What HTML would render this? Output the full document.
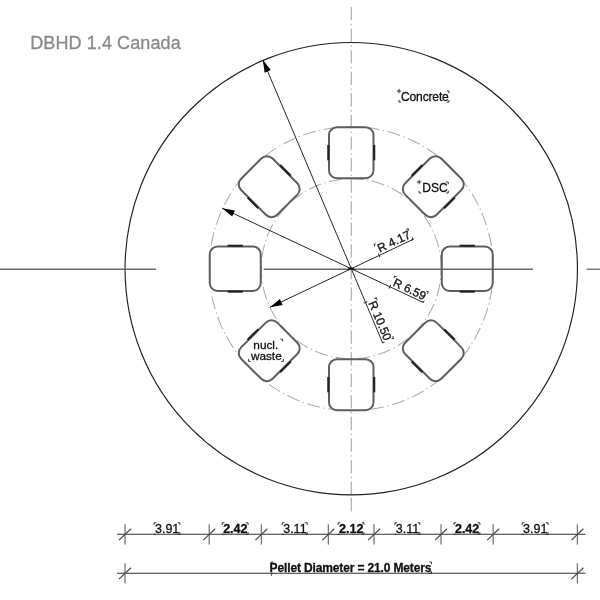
<!DOCTYPE html>
<html><head><meta charset="utf-8"><style>
html,body{margin:0;padding:0;background:#fff;}
svg{display:block;font-family:"Liberation Sans",sans-serif;filter:grayscale(1);}
</style></head><body>
<svg width="600" height="600" viewBox="0 0 600 600">
<rect width="600" height="600" fill="#fff"/>
<line x1="351.3" y1="7" x2="351.3" y2="495" stroke="#b4b4b4" stroke-width="1.3" stroke-dasharray="13.3 3.5 1.3 3.47"/>
<line x1="351.3" y1="498" x2="351.3" y2="511.5" stroke="#b4b4b4" stroke-width="1.3"/>
<circle cx="351.25" cy="268.7" r="90" fill="none" stroke="#adadad" stroke-width="1.05" stroke-dasharray="13.2 3.5 1.3 3.45" stroke-dashoffset="6.6"/>
<circle cx="351.25" cy="268.7" r="142" fill="none" stroke="#adadad" stroke-width="1.05" stroke-dasharray="13.2 3.5 1.3 3.48" stroke-dashoffset="3.22"/>
<circle cx="351.25" cy="268.7" r="226.2" fill="none" stroke="#222" stroke-width="1.15"/>
<line x1="0" y1="269.25" x2="156" y2="269.25" stroke="#6a6a6a" stroke-width="1.3"/>
<line x1="263.75" y1="269.25" x2="533" y2="269.25" stroke="#6a6a6a" stroke-width="1.3"/>
<line x1="586.5" y1="269.25" x2="600" y2="269.25" stroke="#6a6a6a" stroke-width="1.3"/>
<g transform="translate(467.25 268.7) rotate(90)"><rect x="-22.25" y="-25.5" width="44.5" height="51" rx="8" fill="none" stroke="#5e5e5e" stroke-width="2"/><rect x="-24.0" y="-7.6" width="2.1" height="15.2" fill="#222"/><rect x="21.9" y="-7.6" width="2.1" height="15.2" fill="#222"/></g>
<g transform="translate(433.27 186.68) rotate(45)"><rect x="-22.25" y="-25.5" width="44.5" height="51" rx="8" fill="none" stroke="#5e5e5e" stroke-width="2"/><rect x="-24.0" y="-7.6" width="2.1" height="15.2" fill="#222"/><rect x="21.9" y="-7.6" width="2.1" height="15.2" fill="#222"/></g>
<g transform="translate(351.25 152.7) rotate(0)"><rect x="-22.25" y="-25.5" width="44.5" height="51" rx="8" fill="none" stroke="#5e5e5e" stroke-width="2"/><rect x="-24.0" y="-7.6" width="2.1" height="15.2" fill="#222"/><rect x="21.9" y="-7.6" width="2.1" height="15.2" fill="#222"/></g>
<g transform="translate(269.23 186.68) rotate(-45)"><rect x="-22.25" y="-25.5" width="44.5" height="51" rx="8" fill="none" stroke="#5e5e5e" stroke-width="2"/><rect x="-24.0" y="-7.6" width="2.1" height="15.2" fill="#222"/><rect x="21.9" y="-7.6" width="2.1" height="15.2" fill="#222"/></g>
<g transform="translate(235.25 268.7) rotate(-90)"><rect x="-22.25" y="-25.5" width="44.5" height="51" rx="8" fill="none" stroke="#5e5e5e" stroke-width="2"/><rect x="-24.0" y="-7.6" width="2.1" height="15.2" fill="#222"/><rect x="21.9" y="-7.6" width="2.1" height="15.2" fill="#222"/></g>
<g transform="translate(269.23 350.72) rotate(-135)"><rect x="-22.25" y="-25.5" width="44.5" height="51" rx="8" fill="none" stroke="#5e5e5e" stroke-width="2"/><rect x="-24.0" y="-7.6" width="2.1" height="15.2" fill="#222"/><rect x="21.9" y="-7.6" width="2.1" height="15.2" fill="#222"/></g>
<g transform="translate(351.25 384.7) rotate(-180)"><rect x="-22.25" y="-25.5" width="44.5" height="51" rx="8" fill="none" stroke="#5e5e5e" stroke-width="2"/><rect x="-24.0" y="-7.6" width="2.1" height="15.2" fill="#222"/><rect x="21.9" y="-7.6" width="2.1" height="15.2" fill="#222"/></g>
<g transform="translate(433.27 350.72) rotate(-225)"><rect x="-22.25" y="-25.5" width="44.5" height="51" rx="8" fill="none" stroke="#5e5e5e" stroke-width="2"/><rect x="-24.0" y="-7.6" width="2.1" height="15.2" fill="#222"/><rect x="21.9" y="-7.6" width="2.1" height="15.2" fill="#222"/></g>
<line x1="262.81" y1="59.85" x2="381.9" y2="341.08" stroke="#282828" stroke-width="1.0"/><polygon points="262.81,59.85 264.65,72.65 270.73,70.08" fill="#000"/><g transform="translate(368.17 303.02) rotate(67.05)"><text x="0" y="0" font-size="11.9" fill="#111" stroke="#111" stroke-width="0.3">R 10.50</text><path d="M-1.6 -7.82V-9.62H0.2" stroke="#222" stroke-width="0.9" fill="none" stroke-linecap="round"/><path d="M40.48 -9.62H42.28V-7.82" stroke="#222" stroke-width="0.9" fill="none" stroke-linecap="round"/><path d="M42.28 0.4V2.2H40.48" stroke="#222" stroke-width="0.9" fill="none" stroke-linecap="round"/><path d="M-1.6 0.5V3.9" stroke="#222" stroke-width="0.9" fill="none" stroke-linecap="round"/></g>
<line x1="222.21" y1="208.25" x2="422.43" y2="302.04" stroke="#282828" stroke-width="1.0"/><polygon points="222.21,208.25 232.13,216.54 234.93,210.57" fill="#000"/><g transform="translate(392.21 285.46) rotate(25.1)"><text x="0" y="0" font-size="11.8" fill="#111" stroke="#111" stroke-width="0.3">R 6.59</text><path d="M-1.6 -7.75V-9.55H0.2" stroke="#222" stroke-width="0.9" fill="none" stroke-linecap="round"/><path d="M33.57 -9.55H35.37V-7.75" stroke="#222" stroke-width="0.9" fill="none" stroke-linecap="round"/><path d="M35.37 0.4V2.2H33.57" stroke="#222" stroke-width="0.9" fill="none" stroke-linecap="round"/><path d="M-1.6 0.5V3.9" stroke="#222" stroke-width="0.9" fill="none" stroke-linecap="round"/></g>
<line x1="269.95" y1="307.3" x2="413.58" y2="239.1" stroke="#282828" stroke-width="1.0"/><polygon points="269.95,307.3 282.66,304.92 279.83,298.96" fill="#000"/><g transform="translate(379.66 252.77) rotate(-25.4)"><text x="0" y="0" font-size="12" fill="#111" stroke="#111" stroke-width="0.3">R 4.17</text><path d="M-1.6 -7.89V-9.69H0.2" stroke="#222" stroke-width="0.9" fill="none" stroke-linecap="round"/><path d="M34.16 -9.69H35.96V-7.89" stroke="#222" stroke-width="0.9" fill="none" stroke-linecap="round"/><path d="M35.96 0.4V2.2H34.16" stroke="#222" stroke-width="0.9" fill="none" stroke-linecap="round"/><path d="M-1.6 0.5V3.9" stroke="#222" stroke-width="0.9" fill="none" stroke-linecap="round"/></g>
<path d="M347.9 269.7Q351.1 266.9 354.3 269.7" fill="none" stroke="#000" stroke-width="1.5"/>
<g transform="translate(401 100.8)"><text x="0" y="0" font-size="12.1" letter-spacing="-0.18" fill="#111" stroke="#111" stroke-width="0.3">Concrete</text><path d="M-3.8 -9.76H-0.2M-2 -11.56V-7.96" stroke="#222" stroke-width="0.9" fill="none" stroke-linecap="round"/><path d="M46.16 -9.76H47.96V-7.96" stroke="#222" stroke-width="0.9" fill="none" stroke-linecap="round"/><path d="M47.96 -0.5V1.3H46.16" stroke="#222" stroke-width="0.9" fill="none" stroke-linecap="round"/><path d="M-2 -0.5V1.3H-0.2" stroke="#222" stroke-width="0.9" fill="none" stroke-linecap="round"/></g>
<g transform="translate(422.3 191.7)"><text x="0" y="0" font-size="12" fill="#111" stroke="#111" stroke-width="0.3">DSC</text><path d="M-5 -9.69H-1.4M-3.2 -11.49V-7.89" stroke="#222" stroke-width="0.9" fill="none" stroke-linecap="round"/><path d="M24.14 -9.69H25.94V-7.89" stroke="#222" stroke-width="0.9" fill="none" stroke-linecap="round"/><path d="M25.94 -0.5V1.3H24.14" stroke="#222" stroke-width="0.9" fill="none" stroke-linecap="round"/><path d="M-3.2 -0.5V1.3H-1.4" stroke="#222" stroke-width="0.9" fill="none" stroke-linecap="round"/></g>
<g transform="translate(265.8 349.1)"><text x="-12.46" y="0" font-size="11.8" fill="#111" stroke="#111" stroke-width="0.3">nucl.</text></g>
<g transform="translate(266.3 359.7)"><text x="-15.41" y="0" font-size="11.8" fill="#111" stroke="#111" stroke-width="0.3">waste</text></g>
<path d="M280.8 339.2H282.6V341" stroke="#222" stroke-width="0.9" fill="none" stroke-linecap="round"/><path d="M248.6 359.4V361.4H250.4" stroke="#222" stroke-width="0.9" fill="none" stroke-linecap="round"/><path d="M283.4 359.4V361.4H281.6" stroke="#222" stroke-width="0.9" fill="none" stroke-linecap="round"/>
<text x="30.2" y="48.6" font-size="18" letter-spacing="0.1" fill="#8a8a8a" stroke="#8a8a8a" stroke-width="0.3">DBHD 1.4 Canada</text>
<line x1="117" y1="534.3" x2="585.5" y2="534.3" stroke="#333" stroke-width="1.1"/><line x1="125" y1="524.3" x2="125" y2="544.5999999999999" stroke="#777" stroke-width="1.3"/><line x1="119" y1="540.0999999999999" x2="131" y2="528.6999999999999" stroke="#4a4a4a" stroke-width="1.2"/><line x1="209.23" y1="524.3" x2="209.23" y2="544.5999999999999" stroke="#777" stroke-width="1.3"/><line x1="203.23" y1="540.0999999999999" x2="215.23" y2="528.6999999999999" stroke="#4a4a4a" stroke-width="1.2"/><line x1="261.37" y1="524.3" x2="261.37" y2="544.5999999999999" stroke="#777" stroke-width="1.3"/><line x1="255.37" y1="540.0999999999999" x2="267.37" y2="528.6999999999999" stroke="#4a4a4a" stroke-width="1.2"/><line x1="328.36" y1="524.3" x2="328.36" y2="544.5999999999999" stroke="#777" stroke-width="1.3"/><line x1="322.36" y1="540.0999999999999" x2="334.36" y2="528.6999999999999" stroke="#4a4a4a" stroke-width="1.2"/><line x1="374.04" y1="524.3" x2="374.04" y2="544.5999999999999" stroke="#777" stroke-width="1.3"/><line x1="368.04" y1="540.0999999999999" x2="380.04" y2="528.6999999999999" stroke="#4a4a4a" stroke-width="1.2"/><line x1="441.03" y1="524.3" x2="441.03" y2="544.5999999999999" stroke="#777" stroke-width="1.3"/><line x1="435.03" y1="540.0999999999999" x2="447.03" y2="528.6999999999999" stroke="#4a4a4a" stroke-width="1.2"/><line x1="493.17" y1="524.3" x2="493.17" y2="544.5999999999999" stroke="#777" stroke-width="1.3"/><line x1="487.17" y1="540.0999999999999" x2="499.17" y2="528.6999999999999" stroke="#4a4a4a" stroke-width="1.2"/><line x1="577.4" y1="524.3" x2="577.4" y2="544.5999999999999" stroke="#777" stroke-width="1.3"/><line x1="571.4" y1="540.0999999999999" x2="583.4" y2="528.6999999999999" stroke="#4a4a4a" stroke-width="1.2"/>
<line x1="117" y1="573.3" x2="585.5" y2="573.3" stroke="#333" stroke-width="1.1"/><line x1="125" y1="563.3" x2="125" y2="583.5999999999999" stroke="#777" stroke-width="1.3"/><line x1="119" y1="579.0999999999999" x2="131" y2="567.6999999999999" stroke="#4a4a4a" stroke-width="1.2"/><line x1="577.4" y1="563.3" x2="577.4" y2="583.5999999999999" stroke="#777" stroke-width="1.3"/><line x1="571.4" y1="579.0999999999999" x2="583.4" y2="567.6999999999999" stroke="#4a4a4a" stroke-width="1.2"/>
<g transform="translate(167.12 532.8)"><text x="-12.16" y="0" font-size="12.5" fill="#111" stroke="#111" stroke-width="0.3">3.91</text><path d="M-13.06 -8.25V-10.05H-11.26" stroke="#222" stroke-width="0.9" fill="none" stroke-linecap="round"/><path d="M10.96 -10.05H12.76V-8.25" stroke="#222" stroke-width="0.9" fill="none" stroke-linecap="round"/><path d="M12.76 -0.3V1.5H10.96" stroke="#222" stroke-width="0.9" fill="none" stroke-linecap="round"/><path d="M-14.06 1.5L-11.86 0.6V2.4Z" fill="#222" stroke="none"/></g>
<g transform="translate(235.3 532.8)"><text x="-12.16" y="0" font-size="12.5" font-weight="bold" fill="#111" stroke="#111" stroke-width="0.3">2.42</text><path d="M-13.06 -8.25V-10.05H-11.26" stroke="#222" stroke-width="0.9" fill="none" stroke-linecap="round"/><path d="M10.96 -10.05H12.76V-8.25" stroke="#222" stroke-width="0.9" fill="none" stroke-linecap="round"/><path d="M12.76 -0.3V1.5H10.96" stroke="#222" stroke-width="0.9" fill="none" stroke-linecap="round"/><path d="M-14.06 1.5L-11.86 0.6V2.4Z" fill="#222" stroke="none"/></g>
<g transform="translate(294.87 532.8)"><text x="-11.7" y="0" font-size="12.5" fill="#111" stroke="#111" stroke-width="0.3">3.11</text><path d="M-12.6 -8.25V-10.05H-10.8" stroke="#222" stroke-width="0.9" fill="none" stroke-linecap="round"/><path d="M10.5 -10.05H12.3V-8.25" stroke="#222" stroke-width="0.9" fill="none" stroke-linecap="round"/><path d="M12.3 -0.3V1.5H10.5" stroke="#222" stroke-width="0.9" fill="none" stroke-linecap="round"/><path d="M-13.6 1.5L-11.4 0.6V2.4Z" fill="#222" stroke="none"/></g>
<g transform="translate(351.2 532.8)"><text x="-12.16" y="0" font-size="12.5" font-weight="bold" fill="#111" stroke="#111" stroke-width="0.3">2.12</text><path d="M-13.06 -8.25V-10.05H-11.26" stroke="#222" stroke-width="0.9" fill="none" stroke-linecap="round"/><path d="M10.96 -10.05H12.76V-8.25" stroke="#222" stroke-width="0.9" fill="none" stroke-linecap="round"/><path d="M12.76 -0.3V1.5H10.96" stroke="#222" stroke-width="0.9" fill="none" stroke-linecap="round"/><path d="M-14.06 1.5L-11.86 0.6V2.4Z" fill="#222" stroke="none"/></g>
<g transform="translate(407.53 532.8)"><text x="-11.7" y="0" font-size="12.5" fill="#111" stroke="#111" stroke-width="0.3">3.11</text><path d="M-12.6 -8.25V-10.05H-10.8" stroke="#222" stroke-width="0.9" fill="none" stroke-linecap="round"/><path d="M10.5 -10.05H12.3V-8.25" stroke="#222" stroke-width="0.9" fill="none" stroke-linecap="round"/><path d="M12.3 -0.3V1.5H10.5" stroke="#222" stroke-width="0.9" fill="none" stroke-linecap="round"/><path d="M-13.6 1.5L-11.4 0.6V2.4Z" fill="#222" stroke="none"/></g>
<g transform="translate(467.1 532.8)"><text x="-12.16" y="0" font-size="12.5" font-weight="bold" fill="#111" stroke="#111" stroke-width="0.3">2.42</text><path d="M-13.06 -8.25V-10.05H-11.26" stroke="#222" stroke-width="0.9" fill="none" stroke-linecap="round"/><path d="M10.96 -10.05H12.76V-8.25" stroke="#222" stroke-width="0.9" fill="none" stroke-linecap="round"/><path d="M12.76 -0.3V1.5H10.96" stroke="#222" stroke-width="0.9" fill="none" stroke-linecap="round"/><path d="M-14.06 1.5L-11.86 0.6V2.4Z" fill="#222" stroke="none"/></g>
<g transform="translate(535.28 532.8)"><text x="-12.16" y="0" font-size="12.5" fill="#111" stroke="#111" stroke-width="0.3">3.91</text><path d="M-13.06 -8.25V-10.05H-11.26" stroke="#222" stroke-width="0.9" fill="none" stroke-linecap="round"/><path d="M10.96 -10.05H12.76V-8.25" stroke="#222" stroke-width="0.9" fill="none" stroke-linecap="round"/><path d="M12.76 -0.3V1.5H10.96" stroke="#222" stroke-width="0.9" fill="none" stroke-linecap="round"/><path d="M-14.06 1.5L-11.86 0.6V2.4Z" fill="#222" stroke="none"/></g>
<g transform="translate(269.6 571.7)"><text x="0" y="0" font-size="12" font-weight="bold" letter-spacing="-0.14" fill="#111" stroke="#111" stroke-width="0.3">Pellet Diameter = 21.0 Meters</text><path d="M1.6 -7.89V-9.69H3.4" stroke="#222" stroke-width="0.9" fill="none" stroke-linecap="round"/><path d="M160.1 -9.69H161.9V-7.89" stroke="#222" stroke-width="0.9" fill="none" stroke-linecap="round"/><path d="M161.9 -0.1V1.7H160.1" stroke="#222" stroke-width="0.9" fill="none" stroke-linecap="round"/><path d="M0.6 1.7L2.8 0.8V2.6Z" fill="#222" stroke="none"/></g>
<path d="M271.4 573.3V576" stroke="#444" stroke-width="0.9"/>
</svg>
</body></html>
